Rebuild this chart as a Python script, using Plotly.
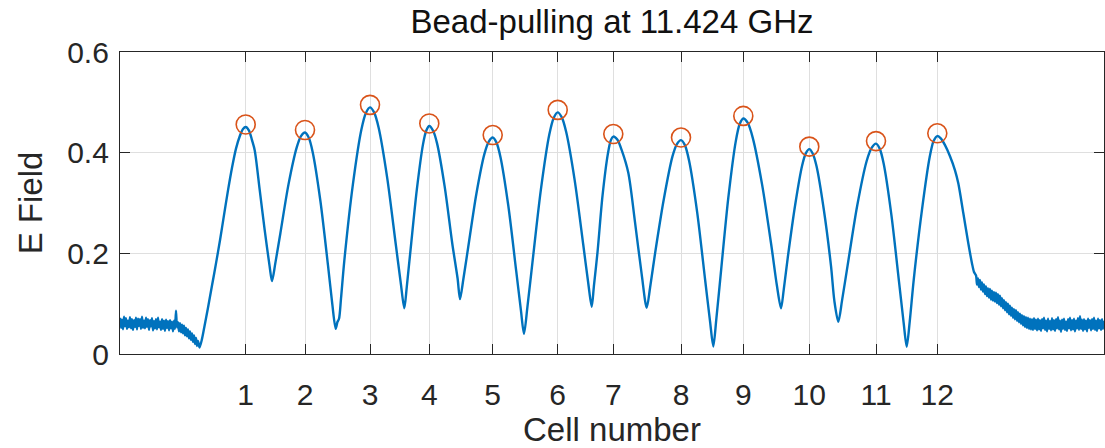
import plotly.graph_objects as go

# Bead position along the structure (samples) and measured field magnitude
position = (
    list(range(0, 79)) + [79.5, 82]
    + [84, 88, 92, 96, 100, 104, 108, 112, 116, 120, 123, 125.7,
       129, 132, 134.7, 139.7, 144.7, 149.7, 152,
       155.3, 160.3, 168.5, 176.8, 181, 185,
       188.7, 192.7, 200.4, 208, 212.3, 215.7,
       217.5, 219, 221, 224.3, 232.9, 241.4, 245.9, 250,
       254.1, 258.6, 267.2, 275.7, 280.9, 284.3,
       286.8, 290.55, 296.8, 303.05, 306.3, 309.3,
       313, 317, 324.65, 332.3, 337.6, 340,
       343.3, 348.2, 356.35, 364.5, 368.8, 372.7,
       376.5, 380.5, 388.35, 396.2, 400.9, 404,
       407.4, 412.4, 420.85, 429.3, 433.7, 437.7,
       441.8, 446.2, 454.7, 463.2, 468.3, 471.7,
       473.9, 477.5, 482.5, 487.9, 490.7, 493.3,
       497.3, 501.7, 508.3, 515, 521.7, 526.7,
       530.1, 535, 543.85, 552.4, 556.9, 561,
       564.9, 569.1, 577.15, 585.2, 590.1, 593.3,
       596.3, 600.8, 608.3, 615.8, 619.7, 623.3,
       627.8, 632.7, 642.15, 651.6, 656.9, 661,
       663.8, 667.8, 675.15, 682.2, 685.9, 689.3,
       692.8, 696.55, 703.8, 711.05, 714.4, 718.3,
       722.1, 727.7, 737.15, 746.6, 751.5, 756,
       759.7, 763.7, 771.35, 779, 783.6, 786.7,
       789.75, 793.75, 802, 809.65, 813.6, 817.3,
       821, 825, 830, 835, 838.3, 843.3, 848.3, 852, 854]
    + list(range(856, 985))
)

e_field = [
    # lead-in noise floor (0..78)
    0.072, 0.052, 0.068, 0.049, 0.074, 0.055, 0.071, 0.050, 0.066, 0.053,
    0.073, 0.051, 0.069, 0.048, 0.067, 0.054, 0.072, 0.049, 0.070, 0.056,
    0.069, 0.050, 0.074, 0.052, 0.066, 0.051, 0.072, 0.054, 0.069, 0.048,
    0.067, 0.055, 0.071, 0.047, 0.065, 0.051, 0.069, 0.049, 0.072, 0.053,
    0.064, 0.048, 0.069, 0.050, 0.066, 0.046, 0.068, 0.052, 0.065, 0.047,
    0.067, 0.051, 0.064, 0.045, 0.066, 0.050, 0.086, 0.053, 0.063, 0.045,
    0.061, 0.043, 0.058, 0.041, 0.056, 0.037, 0.052, 0.035, 0.049, 0.031,
    0.045, 0.028, 0.041, 0.024, 0.037, 0.020, 0.032, 0.016, 0.026,
    0.013, 0.030,
    # cells
    0.050, 0.092, 0.136, 0.180, 0.226, 0.276, 0.325, 0.370, 0.408, 0.434, 0.447, 0.451,
    0.444, 0.425, 0.405, 0.326, 0.246, 0.173, 0.145,
    0.180, 0.239, 0.337, 0.411, 0.433, 0.440,
    0.430, 0.401, 0.304, 0.176, 0.099, 0.050,
    0.064, 0.070, 0.110, 0.185, 0.337, 0.446, 0.479, 0.490,
    0.480, 0.450, 0.350, 0.219, 0.139, 0.091,
    0.134, 0.207, 0.326, 0.417, 0.444, 0.453,
    0.444, 0.419, 0.333, 0.219, 0.150, 0.109,
    0.148, 0.212, 0.318, 0.398, 0.422, 0.430,
    0.420, 0.391, 0.294, 0.165, 0.087, 0.040,
    0.093, 0.181, 0.326, 0.436, 0.469, 0.480,
    0.470, 0.441, 0.345, 0.218, 0.140, 0.094,
    0.135, 0.202, 0.314, 0.398, 0.424, 0.432,
    0.426, 0.405, 0.360, 0.262, 0.158, 0.092,
    0.132, 0.199, 0.308, 0.392, 0.417, 0.425,
    0.415, 0.384, 0.282, 0.146, 0.064, 0.015,
    0.069, 0.160, 0.310, 0.423, 0.457, 0.468,
    0.459, 0.430, 0.336, 0.212, 0.136, 0.091,
    0.129, 0.192, 0.296, 0.375, 0.399, 0.407,
    0.398, 0.373, 0.287, 0.174, 0.105, 0.064,
    0.107, 0.177, 0.294, 0.383, 0.409, 0.418,
    0.408, 0.378, 0.277, 0.144, 0.063, 0.0145,
    0.065, 0.148, 0.287, 0.391, 0.423, 0.433,
    0.428, 0.415, 0.393, 0.365, 0.339, 0.280, 0.220, 0.180, 0.163,
    # tail noise floor (856..984)
    0.156, 0.138, 0.150, 0.133, 0.147, 0.128, 0.142, 0.124, 0.138, 0.119,
    0.134, 0.115, 0.130, 0.112, 0.129, 0.108, 0.126, 0.106, 0.123, 0.104,
    0.122, 0.101, 0.119, 0.098, 0.116, 0.095, 0.111, 0.091, 0.107, 0.087,
    0.103, 0.083, 0.100, 0.079, 0.096, 0.076, 0.092, 0.072, 0.089, 0.069,
    0.087, 0.066, 0.083, 0.063, 0.080, 0.060, 0.077, 0.057, 0.075, 0.054,
    0.073, 0.052, 0.072, 0.050, 0.070, 0.049, 0.069, 0.048, 0.071, 0.050,
    0.068, 0.047, 0.070, 0.049, 0.067, 0.046, 0.069, 0.051, 0.072, 0.048,
    0.066, 0.045, 0.070, 0.050, 0.065, 0.047, 0.071, 0.049, 0.067, 0.046,
    0.069, 0.051, 0.073, 0.049, 0.066, 0.044, 0.068, 0.050, 0.070, 0.048,
    0.064, 0.046, 0.069, 0.051, 0.072, 0.047, 0.067, 0.049, 0.070, 0.045,
    0.066, 0.051, 0.071, 0.048, 0.075, 0.050, 0.068, 0.046, 0.069, 0.049,
    0.066, 0.045, 0.070, 0.052, 0.067, 0.047, 0.069, 0.050, 0.072, 0.048,
    0.066, 0.046, 0.070, 0.051, 0.067, 0.048, 0.069, 0.050, 0.066,
]

# Detected cell peaks
cell_position = [125.7, 185, 250, 309.3, 372.7, 437.7, 493.3, 561, 623.3, 689.3, 756, 817.3]
cell_peak = [0.456, 0.445, 0.495, 0.458, 0.435, 0.485, 0.437, 0.430, 0.473, 0.412, 0.423, 0.4385]
cell_labels = ["1", "2", "3", "4", "5", "6", "7", "8", "9", "10", "11", "12"]

y_ticks = [0, 0.2, 0.4, 0.6]
y_labels = ["0", "0.2", "0.4", "0.6"]

FONT = "Liberation Sans, Arial, sans-serif"
AX = "#262626"
GRID = "#DFDFDF"

fig = go.Figure()
fig.add_trace(go.Scatter(
    x=position, y=e_field, mode="lines",
    line=dict(color="#0072BD", width=2.4, shape="spline", smoothing=0.8),
    hoverinfo="skip",
))
fig.add_trace(go.Scatter(
    x=cell_position, y=cell_peak, mode="markers",
    marker=dict(symbol="circle-open", size=19, color="#D95319",
                line=dict(width=1.6, color="#D95319")),
    hoverinfo="skip",
))

axis_common = dict(
    showline=True, linecolor=AX, linewidth=1.2, mirror="ticks",
    ticks="inside", ticklen=10, tickwidth=1.2, tickcolor=AX,
    showgrid=True, gridcolor=GRID, gridwidth=1,
    zeroline=False,
    tickfont=dict(family=FONT, size=30, color=AX),
)

fig.update_layout(
    width=1105, height=448,
    margin=dict(l=120, r=1, t=52, b=94),
    paper_bgcolor="white", plot_bgcolor="white",
    showlegend=False,
    title=dict(
        text="Bead-pulling at 11.424 GHz",
        font=dict(family=FONT, size=33, color="#111111"),
        x=0.5, xref="paper", xanchor="center",
        y=1 - 10 / 448, yref="container", yanchor="top",
    ),
    xaxis=dict(
        range=[0, 984],
        tickmode="array", tickvals=cell_position, ticktext=cell_labels,
        ticklabelstandoff=14,
        title=dict(text="Cell number", font=dict(family=FONT, size=33, color=AX), standoff=8),
        **axis_common,
    ),
    yaxis=dict(
        range=[0, 0.6],
        tickmode="array", tickvals=y_ticks, ticktext=y_labels,
        ticklabelstandoff=4,
        title=dict(text="E Field", font=dict(family=FONT, size=33, color=AX), standoff=14),
        **axis_common,
    ),
)

fig.write_html("out.html")
